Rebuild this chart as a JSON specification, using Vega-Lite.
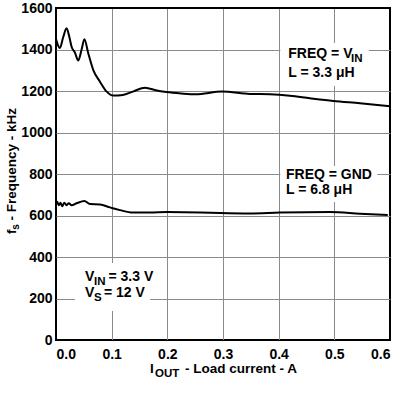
{
  "$schema": "https://vega.github.io/schema/vega-lite/v6.json",
  "width": 334,
  "height": 332,
  "autosize": "none",
  "padding": {"left": 56, "top": 8, "right": 16, "bottom": 53},
  "background": "white",
  "config": {
    "view": {"stroke": "black", "strokeWidth": 2},
    "font": "Liberation Sans",
    "axis": {
      "labelFont": "Liberation Sans",
      "labelFontSize": 14,
      "labelFontWeight": "bold",
      "labelColor": "black",
      "ticks": false,
      "tickSize": 0,
      "domain": false,
      "gridWidth": 1
    }
  },
  "datasets": {
    "curves": [
      {"s": "vin", "x": 0.000, "y": 1450},
      {"s": "vin", "x": 0.007, "y": 1407},
      {"s": "vin", "x": 0.013, "y": 1460},
      {"s": "vin", "x": 0.019, "y": 1502},
      {"s": "vin", "x": 0.024, "y": 1460},
      {"s": "vin", "x": 0.028, "y": 1413},
      {"s": "vin", "x": 0.034, "y": 1385},
      {"s": "vin", "x": 0.040, "y": 1347},
      {"s": "vin", "x": 0.046, "y": 1400},
      {"s": "vin", "x": 0.051, "y": 1449},
      {"s": "vin", "x": 0.058, "y": 1381},
      {"s": "vin", "x": 0.067, "y": 1301},
      {"s": "vin", "x": 0.079, "y": 1245},
      {"s": "vin", "x": 0.091, "y": 1197},
      {"s": "vin", "x": 0.103, "y": 1178},
      {"s": "vin", "x": 0.120, "y": 1181},
      {"s": "vin", "x": 0.138, "y": 1197},
      {"s": "vin", "x": 0.160, "y": 1216},
      {"s": "vin", "x": 0.181, "y": 1202},
      {"s": "vin", "x": 0.198, "y": 1195},
      {"s": "vin", "x": 0.225, "y": 1188},
      {"s": "vin", "x": 0.251, "y": 1184},
      {"s": "vin", "x": 0.298, "y": 1197},
      {"s": "vin", "x": 0.348, "y": 1186},
      {"s": "vin", "x": 0.384, "y": 1184},
      {"s": "vin", "x": 0.420, "y": 1177},
      {"s": "vin", "x": 0.456, "y": 1165},
      {"s": "vin", "x": 0.498, "y": 1152},
      {"s": "vin", "x": 0.546, "y": 1141},
      {"s": "vin", "x": 0.600, "y": 1127},
      {"s": "gnd", "x": 0.001, "y": 655},
      {"s": "gnd", "x": 0.002, "y": 666},
      {"s": "gnd", "x": 0.005, "y": 650},
      {"s": "gnd", "x": 0.008, "y": 661},
      {"s": "gnd", "x": 0.011, "y": 645},
      {"s": "gnd", "x": 0.015, "y": 661},
      {"s": "gnd", "x": 0.019, "y": 650},
      {"s": "gnd", "x": 0.023, "y": 659},
      {"s": "gnd", "x": 0.028, "y": 650},
      {"s": "gnd", "x": 0.037, "y": 659},
      {"s": "gnd", "x": 0.051, "y": 670},
      {"s": "gnd", "x": 0.061, "y": 655},
      {"s": "gnd", "x": 0.079, "y": 653},
      {"s": "gnd", "x": 0.097, "y": 639},
      {"s": "gnd", "x": 0.115, "y": 626},
      {"s": "gnd", "x": 0.138, "y": 614},
      {"s": "gnd", "x": 0.169, "y": 614},
      {"s": "gnd", "x": 0.199, "y": 617},
      {"s": "gnd", "x": 0.259, "y": 615},
      {"s": "gnd", "x": 0.295, "y": 612},
      {"s": "gnd", "x": 0.348, "y": 610},
      {"s": "gnd", "x": 0.402, "y": 614},
      {"s": "gnd", "x": 0.492, "y": 617},
      {"s": "gnd", "x": 0.546, "y": 609},
      {"s": "gnd", "x": 0.596, "y": 602}
    ],
    "boxes": [
      {"x": 0.403, "y": 1431, "x2": 0.562, "y2": 1224},
      {"x": 0.403, "y": 838, "x2": 0.577, "y2": 665},
      {"x": 0.034, "y": 371, "x2": 0.169, "y2": 140}
    ],
    "labels": [
      {"k": "m", "t": "FREQ = V", "x": 0.4173, "y": 1357.6},
      {"k": "s", "t": "IN", "x": 0.5300, "y": 1357.6},
      {"k": "m", "t": "L = 3.3 μH", "x": 0.4173, "y": 1268.9},
      {"k": "m", "t": "FREQ = GND", "x": 0.4132, "y": 775.9},
      {"k": "m", "t": "L = 6.8 μH", "x": 0.4132, "y": 702.2},
      {"k": "m", "t": "V", "x": 0.0521, "y": 285.8},
      {"k": "s", "t": "IN", "x": 0.0683, "y": 285.8},
      {"k": "m", "t": "= 3.3 V", "x": 0.0943, "y": 285.8},
      {"k": "m", "t": "V", "x": 0.0521, "y": 208.7},
      {"k": "s", "t": "S", "x": 0.0683, "y": 208.7},
      {"k": "m", "t": "= 12 V", "x": 0.0862, "y": 208.7},
      {"k": "xm", "t": "I", "x": 0.1689, "y": -157.6},
      {"k": "xs", "t": "OUT", "x": 0.1778, "y": -157.6},
      {"k": "xm", "t": "- Load current - A", "x": 0.2317, "y": -157.6},
      {"k": "ym", "t": "f", "x": -0.0719, "y": 510.8},
      {"k": "ys", "t": "s", "x": -0.0719, "y": 531.6},
      {"k": "ym", "t": "- Frequency - kHz", "x": -0.0719, "y": 575.9}
    ]
  },
  "encoding": {
    "x": {
      "field": "x",
      "type": "quantitative",
      "title": null,
      "scale": {"domain": [0, 0.6], "nice": false, "zero": false},
      "axis": {
        "format": ".1f",
        "values": [0, 0.1, 0.2, 0.3, 0.4, 0.5, 0.6],
        "labelPadding": 7,
        "gridColor": {"condition": {"test": "datum.value <= 0.0001 || datum.value >= 0.5999", "value": "black"}, "value": "#8a8a8a"}
      }
    },
    "y": {
      "field": "y",
      "type": "quantitative",
      "title": null,
      "scale": {"domain": [0, 1600], "nice": false, "zero": false},
      "axis": {
        "format": "d",
        "values": [0, 200, 400, 600, 800, 1000, 1200, 1400, 1600],
        "labelPadding": 4,
        "gridColor": {"condition": {"test": "datum.value <= 0 || datum.value >= 1600", "value": "black"}, "value": "#8a8a8a"}
      }
    }
  },
  "layer": [
    {
      "data": {"name": "boxes"},
      "mark": {"type": "rect", "fill": "white", "stroke": null},
      "encoding": {
        "x2": {"field": "x2"},
        "y2": {"field": "y2"}
      }
    },
    {
      "data": {"name": "curves"},
      "mark": {"type": "line", "color": "black", "strokeWidth": 2, "interpolate": "monotone"},
      "encoding": {
        "detail": {"field": "s"}
      }
    },
    {
      "data": {"name": "labels"},
      "transform": [{"filter": "datum.k === 'm'"}],
      "mark": {"type": "text", "align": "left", "baseline": "alphabetic", "font": "Liberation Sans", "fontSize": 14, "fontWeight": "bold", "color": "black"},
      "encoding": {"text": {"field": "t"}}
    },
    {
      "data": {"name": "labels"},
      "transform": [{"filter": "datum.k === 's'"}],
      "mark": {"type": "text", "align": "left", "baseline": "alphabetic", "font": "Liberation Sans", "fontSize": 11.5, "fontWeight": "bold", "color": "black", "dy": 4},
      "encoding": {"text": {"field": "t"}}
    },
    {
      "data": {"name": "labels"},
      "transform": [{"filter": "datum.k === 'xm'"}],
      "mark": {"type": "text", "align": "left", "baseline": "alphabetic", "font": "Liberation Sans", "fontSize": 13.5, "fontWeight": "bold", "color": "black"},
      "encoding": {"text": {"field": "t"}}
    },
    {
      "data": {"name": "labels"},
      "transform": [{"filter": "datum.k === 'xs'"}],
      "mark": {"type": "text", "align": "left", "baseline": "alphabetic", "font": "Liberation Sans", "fontSize": 11.5, "fontWeight": "bold", "color": "black", "dy": 4},
      "encoding": {"text": {"field": "t"}}
    },
    {
      "data": {"name": "labels"},
      "transform": [{"filter": "datum.k === 'ym'"}],
      "mark": {"type": "text", "align": "left", "baseline": "alphabetic", "angle": 270, "font": "Liberation Sans", "fontSize": 13.5, "fontWeight": "bold", "color": "black"},
      "encoding": {"text": {"field": "t"}}
    },
    {
      "data": {"name": "labels"},
      "transform": [{"filter": "datum.k === 'ys'"}],
      "mark": {"type": "text", "align": "left", "baseline": "alphabetic", "angle": 270, "font": "Liberation Sans", "fontSize": 10, "fontWeight": "bold", "color": "black", "dy": 3},
      "encoding": {"text": {"field": "t"}}
    }
  ]
}
